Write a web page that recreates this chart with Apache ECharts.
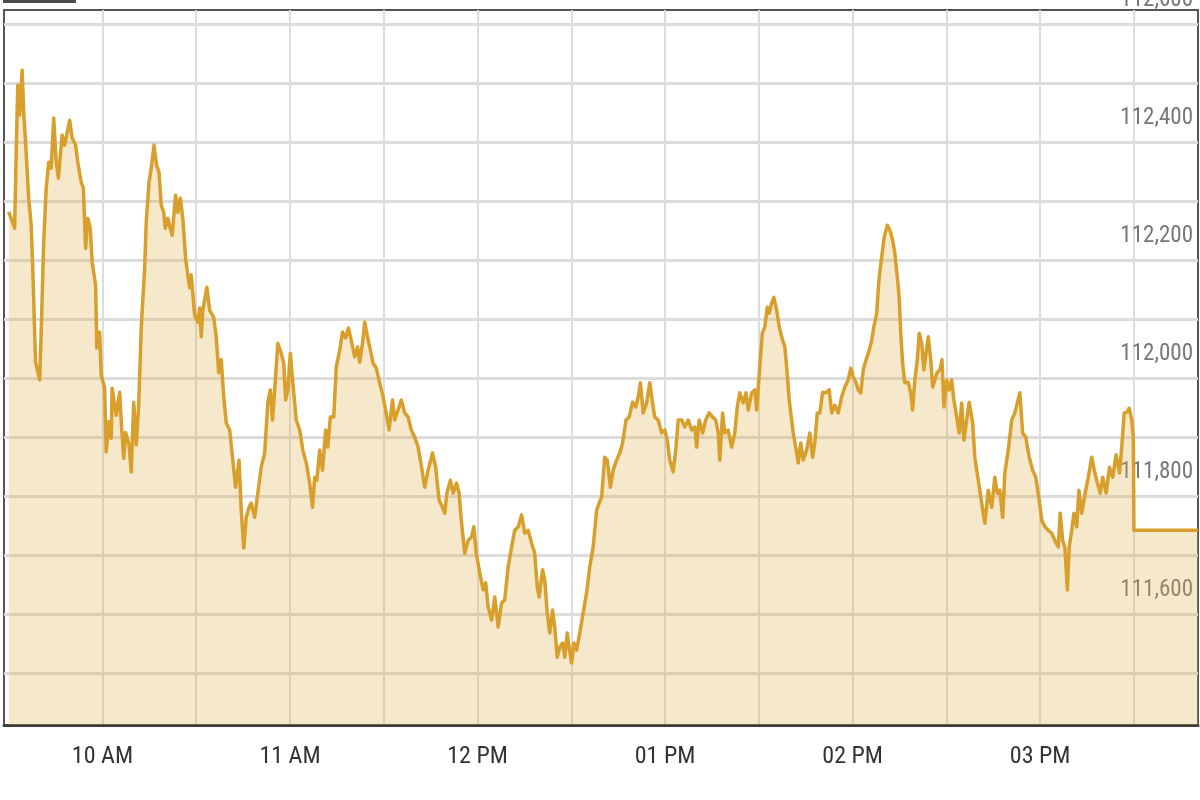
<!DOCTYPE html>
<html>
<head>
<meta charset="utf-8">
<script src="https://cdn.jsdelivr.net/npm/echarts@6/dist/echarts.min.js"></script>
<style>
html,body{margin:0;padding:0;background:#fff;}
#chart{width:1200px;height:800px;}
</style>
</head>
<body>
<div id="chart"></div>
<script>
// minutes since midnight
const times = [570.0,571.9,572.4,572.9,573.5,574.3,574.8,575.4,576.4,577.2,577.7,578.6,579.9,580.4,581.2,582.0,582.8,583.6,584.4,585.2,585.9,587.1,587.9,589.5,590.3,591.4,592.1,593.2,593.9,594.6,595.3,596.1,596.7,597.8,598.2,599.1,599.6,600.7,601.2,602.0,602.8,603.1,604.4,605.5,606.0,606.8,607.4,608.5,609.2,610.0,610.8,611.6,612.4,613.5,614.0,614.9,615.6,616.5,617.3,618.1,618.8,619.6,620.1,620.9,621.7,622.3,623.4,624.1,624.9,625.7,626.6,627.3,627.9,628.4,629.5,630.5,631.1,631.6,632.1,633.4,634.3,635.6,636.4,637.2,638.0,638.8,639.6,640.7,641.7,642.6,643.7,644.4,645.2,646.0,646.9,647.6,648.7,649.7,650.8,651.9,652.9,653.7,654.4,655.1,656.1,657.2,658.0,658.6,659.3,660.1,660.9,662.0,663.1,664.1,665.2,666.3,667.2,667.9,668.6,669.5,670.4,671.4,672.1,672.9,674.0,674.8,675.9,676.8,677.8,678.7,679.6,680.7,681.6,682.3,683.2,683.9,684.8,685.5,686.6,687.6,688.7,689.8,690.6,691.7,692.8,693.5,694.9,695.6,696.7,697.8,698.8,699.9,701.0,702.1,703.1,704.2,705.6,706.6,707.7,708.8,709.5,710.2,711.3,712.2,713.3,714.1,714.8,715.9,717.0,718.1,718.8,719.6,720.7,721.8,722.6,723.4,724.5,725.5,726.6,727.7,728.7,729.8,730.9,731.9,733.0,734.1,735.1,736.2,737.3,738.3,739.1,739.7,740.8,741.5,742.3,743.1,744.0,744.7,745.5,746.3,747.2,747.9,748.7,749.3,750.1,750.8,751.7,752.7,753.8,754.9,755.9,757.0,758.1,758.9,759.7,760.7,761.5,762.5,763.4,764.5,765.5,766.4,767.5,768.5,769.6,770.6,771.4,772.1,773.0,774.1,775.1,776.0,776.7,777.8,778.9,779.9,780.7,781.5,782.6,783.5,784.2,785.3,786.3,787.4,788.5,789.5,790.1,790.9,792.0,793.0,794.1,795.2,796.2,797.0,797.5,798.4,799.1,800.2,801.3,802.3,803.1,803.9,805.0,805.9,806.6,807.7,808.7,809.3,810.3,811.1,811.9,812.7,813.3,814.1,814.8,815.7,816.5,817.3,818.3,818.9,819.7,821.0,822.1,822.6,823.4,824.2,825.3,826.3,827.2,827.9,828.7,829.5,830.4,831.4,832.5,833.3,834.3,835.4,836.5,837.5,838.6,839.4,840.2,841.1,841.8,842.6,843.4,844.3,845.3,846.1,846.8,847.7,848.5,849.3,850.1,851.1,851.9,852.8,853.5,854.3,854.9,855.4,856.0,856.7,857.8,858.6,859.2,859.9,860.7,861.3,862.1,862.8,863.5,864.2,865.0,865.6,866.3,867.0,867.9,868.6,869.2,870.1,870.9,871.7,872.4,873.3,874.1,874.9,875.6,876.5,877.3,878.4,879.1,880.2,881.3,882.3,883.4,884.5,885.5,886.3,887.1,888.0,888.7,889.8,890.9,891.9,892.7,893.5,894.4,895.4,896.5,897.6,898.6,899.7,900.5,901.5,902.6,903.7,904.7,905.8,906.4,907.2,907.9,908.7,909.3,910.1,910.8,911.7,912.4,913.3,914.4,915.4,916.5,917.3,918.3,919.2,920.0,921.1,922.2,923.2,924.3,925.4,926.1,926.9,927.7,928.5,929.3,929.8,930.0,950.5];

const prices = [112282,112254,112383,112497,112446,112522,112451,112400,112305,112259,112186,112027,111997,112078,112231,112322,112366,112356,112441,112366,112339,112412,112395,112437,112407,112395,112366,112332,112322,112220,112271,112254,112197,112158,112051,112078,112005,111983,111875,111926,111898,111983,111937,111976,111926,111864,111908,111887,111841,111959,111887,111954,112085,112186,112264,112332,112356,112395,112361,112349,112293,112281,112254,112271,112254,112242,112310,112281,112305,112271,112203,112175,112153,112175,112107,112095,112119,112070,112115,112154,112115,112103,112070,112009,112031,111968,111924,111912,111861,111815,111861,111776,111712,111764,111781,111788,111764,111805,111849,111873,111958,111980,111929,111980,112059,112042,112025,111963,111980,112042,111992,111929,111912,111878,111856,111822,111781,111832,111827,111878,111844,111912,111883,111934,111934,112019,112047,112078,112068,112085,112064,112036,112053,112027,112059,112095,112070,112053,112025,112017,111992,111968,111946,111912,111963,111929,111951,111963,111941,111934,111912,111900,111883,111849,111815,111844,111873,111849,111793,111781,111771,111805,111827,111805,111822,111805,111759,111703,111725,111731,111748,111703,111670,111641,111653,111612,111590,111629,111578,111619,111624,111680,111714,111742,111748,111768,111737,111742,111720,111703,111646,111629,111675,111658,111602,111568,111607,111578,111527,111544,111551,111527,111568,111544,111517,111551,111539,111568,111602,111636,111680,111714,111776,111788,111798,111866,111861,111815,111844,111861,111873,111890,111929,111934,111959,111951,111968,111992,111941,111958,111992,111958,111934,111929,111907,111912,111895,111861,111841,111883,111929,111929,111917,111929,111912,111917,111883,111929,111907,111929,111941,111934,111929,111907,111861,111941,111907,111912,111883,111907,111951,111975,111958,111975,111946,111975,111980,111946,112019,112076,112087,112120,112110,112127,112137,112115,112087,112070,112053,112019,111963,111907,111873,111856,111890,111861,111878,111907,111866,111890,111941,111941,111976,111975,111980,111941,111954,111941,111968,111985,111997,112017,112002,111992,111980,111975,112014,112031,112047,112064,112087,112110,112171,112205,112239,112259,112251,112234,112212,112171,112137,112076,112025,111992,111993,111975,111946,111997,112031,112076,112059,112014,112042,112070,112031,111985,111997,112009,112014,112031,111951,111997,111980,111997,111963,111934,111907,111958,111895,111929,111959,111924,111866,111827,111788,111754,111810,111781,111832,111805,111810,111764,111839,111878,111929,111941,111958,111975,111907,111900,111866,111844,111832,111793,111759,111748,111742,111737,111725,111714,111771,111725,111714,111641,111714,111742,111771,111748,111810,111771,111805,111832,111866,111844,111822,111805,111832,111805,111849,111832,111870,111839,111883,111941,111942,111949,111929,111900,111742,111742];

const hourTicks = [600, 660, 720, 780, 840, 900];
const hourLabels = ['10 AM', '11 AM', '12 PM', '01 PM', '02 PM', '03 PM'];
const yLabelStep = 200;

const X_MIN = 568.5, X_MAX = 950.5;
const Y_MIN = 111412, Y_MAX = 112624;

// half-minute slots for the gridline / label axis
const timeSlots = [];
for (let h = X_MIN * 2; h <= X_MAX * 2; h++) timeSlots.push(String(h));

const n = Math.min(times.length, prices.length);
const seriesData = [];
for (let i = 0; i < n; i++) seriesData.push([times[i], prices[i]]);

function fmtNum(v) {
  return String(v).replace(/\B(?=(\d{3})+(?!\d))/g, ',');
}

const chart = echarts.init(document.getElementById('chart'), null, {renderer: 'canvas'});
const FONT = '"Roboto Condensed", "Liberation Sans Narrow", Roboto, sans-serif';

chart.setOption({
  animation: false,
  backgroundColor: '#ffffff',
  grid: {
    left: 4, right: 2, top: 10, bottom: 75,
    containLabel: false,
    outerBoundsMode: 'none',
    show: true, borderColor: '#555555', borderWidth: 2, backgroundColor: 'transparent'
  },
  graphic: [{
    type: 'rect', left: 3, top: -4, shape: {width: 73, height: 7},
    style: {fill: '#4b4b47'}, z: 100
  }],
  xAxis: [{
    type: 'category',
    data: timeSlots,
    boundaryGap: false,
    axisLine: {show: true, lineStyle: {color: '#3d3d3d', width: 3}},
    axisTick: {show: false},
    axisLabel: {
      interval: function (idx, val) {
        const m = Number(val) / 2;
        return hourTicks.indexOf(m) >= 0;
      },
      formatter: function (val) {
        const m = Number(val) / 2;
        const k = hourTicks.indexOf(m);
        return k >= 0 ? hourLabels[k] : '';
      },
      color: '#333333',
      fontFamily: FONT,
      fontSize: 24,
      margin: 20
    },
    splitLine: {
      show: true,
      interval: function (idx, val) {
        const hm = Number(val);
        return hm % 60 === 0 && hm > 1140;
      },
      lineStyle: {color: '#dcdcdc', width: 2}
    }
  }, {
    type: 'value',
    min: X_MIN, max: X_MAX,
    show: false,
    splitLine: {show: false}
  }],
  yAxis: {
    type: 'value',
    position: 'right',
    min: Y_MIN, max: Y_MAX,
    splitNumber: 12,
    minInterval: 100,
    maxInterval: 100,
    axisLine: {show: false},
    axisTick: {show: false},
    axisLabel: {
      inside: true,
      margin: 5,
      color: '#777777',
      fontFamily: FONT,
      fontSize: 23,
      verticalAlign: 'bottom',
      padding: [0, 0, 12, 0],
      formatter: function (v) {
        return (Math.round(v) % yLabelStep === 0) ? fmtNum(Math.round(v)) : '';
      }
    },
    splitLine: {show: true, showMaxLine: false, showMinLine: false, lineStyle: {color: '#dcdcdc', width: 3}}
  },
  series: [{
    type: 'line',
    xAxisIndex: 1,
    data: seriesData,
    showSymbol: false,
    symbol: 'none',
    sampling: null,
    lineStyle: {color: '#d89f2c', width: 3.5, join: 'round'},
    areaStyle: {color: 'rgba(222,172,70,0.40)', origin: 'start'},
    z: 3
  }]
});
</script>
</body>
</html>
